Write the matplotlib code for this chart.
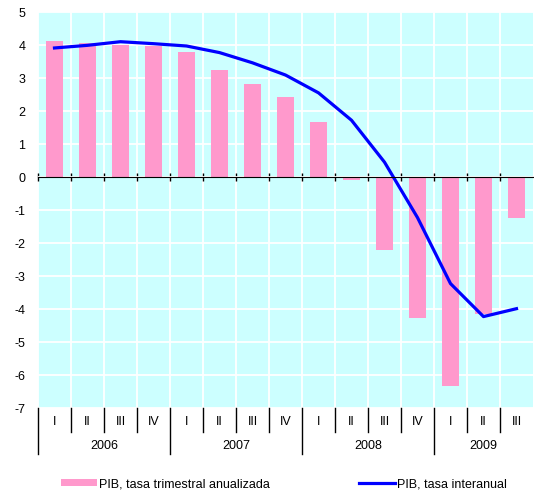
import numpy as np
import matplotlib.pyplot as plt
from matplotlib.lines import Line2D
from matplotlib.patches import Patch
import matplotlib.transforms as mtransforms

plt.rcParams['font.family'] = ['Liberation Sans', 'DejaVu Sans']
plt.rcParams['axes.unicode_minus'] = False

quarters = ["I", "II", "III", "IV"] * 3 + ["I", "II", "III"]
years = ["2006", "2007", "2008", "2009"]
trimestral = [4.12, 4.05, 4.01, 3.98, 3.79, 3.24, 2.82, 2.42, 1.67, -0.08,
              -2.21, -4.26, -6.33, -4.16, -1.24]
interanual = [3.91, 3.99, 4.10, 4.04, 3.97, 3.77, 3.46, 3.09, 2.55, 1.72,
              0.45, -1.23, -3.23, -4.23, -3.99]

x = np.arange(len(quarters))

fig = plt.figure(figsize=(5.34, 4.94), dpi=100)
ax = fig.add_axes([38 / 534, 1 - 408 / 494, 495 / 534, 396 / 494])
ax.set_facecolor("#CCFFFF")

ax.bar(x, trimestral, width=0.5, color="#FF99CC", zorder=2)
ax.plot(x, interanual, color="#0000FF", lw=2.3, zorder=3)

ax.set_xlim(-0.5, len(x) - 0.5)
ax.set_ylim(-7, 5)
ax.set_yticks(range(-7, 6))
ax.tick_params(axis="y", length=0, pad=9, labelsize=9)

# x axis drawn at zero with ticks between quarters
ax.set_xticks(np.arange(-0.5, len(x) - 1, 1.0))
ax.set_xticklabels([])
ax.spines["bottom"].set_position(("data", 0))
ax.spines["bottom"].set_zorder(4)
ax.tick_params(axis="x", direction="inout", length=6, width=1, color="black")
for s in ["top", "right", "left"]:
    ax.spines[s].set_visible(False)

ax.grid(True, color="white", lw=1.3, zorder=1)
ax.set_axisbelow(True)

# category labels under the plot
trans = mtransforms.blended_transform_factory(ax.transData, ax.transAxes)
for i, q in enumerate(quarters):
    ax.text(i, -0.036, q, transform=trans, ha="center", va="center", fontsize=9)
for b in np.arange(-0.5, len(x) - 1, 1.0):
    year_line = (b + 0.5) % 4 == 0
    ax.plot([b, b], [0, -0.116 if year_line else -0.061], transform=trans,
            color="black", lw=1, clip_on=False)
for j, yr in enumerate(years):
    start = j * 4
    end = min(start + 4, len(x)) - 1
    ax.text((start + end) / 2, -0.096, yr, transform=trans, ha="center",
            va="center", fontsize=9)

handles = [Patch(facecolor="#FF99CC", edgecolor="none"),
           Line2D([0], [0], color="#0000FF", lw=2.3)]
fig.legend(handles, ["PIB, tasa trimestral anualizada", "PIB, tasa interanual"],
           loc="center left", bbox_to_anchor=(56 / 534, 1 - 484 / 494), ncol=2,
           frameon=False, fontsize=9, handlelength=2.9, handleheight=0.55,
           handletextpad=0.15, columnspacing=7.1, borderaxespad=0)

fig.savefig("out.png", dpi=100)
